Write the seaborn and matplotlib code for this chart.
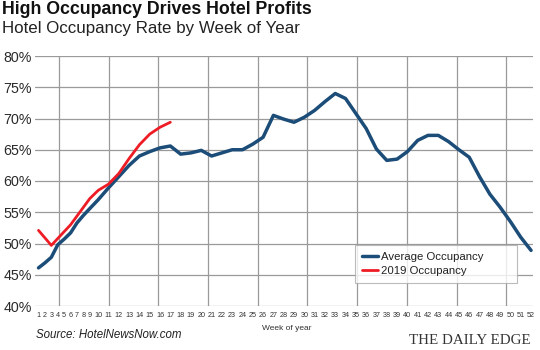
import seaborn as sns
import pandas as pd
import matplotlib.pyplot as plt
import numpy as np

# Data
weeks = list(range(1, 53))
avg_occupancy = [46.1, 46.9, 47.8, 49.8, 50.7, 51.7, 53.3, 54.5, 55.6, 57.0,
                 58.9, 60.7, 62.5, 64.0, 64.7, 65.3, 65.6, 64.3, 64.5, 64.9,
                 64.0, 64.5, 65.0, 65.0, 65.9, 67.0, 70.5, 69.9, 69.4, 70.2,
                 71.3, 72.7, 74.0, 73.2, 70.8, 68.4, 65.1, 63.3, 63.5, 64.7,
                 66.5, 67.3, 67.3, 66.3, 65.0, 63.8, 60.7, 57.9, 55.8, 53.5,
                 51.0, 48.9]
occupancy_2019 = [52.1, 50.9, 49.7, 50.8, 51.9, 53.0, 54.4, 55.8, 57.2, 58.5,
                  59.5, 61.2, 63.6, 65.8, 67.5, 68.6, 69.4]
week_labels = [str(w) for w in weeks]
y_ticks = [40, 45, 50, 55, 60, 65, 70, 75, 80]

# The week labels are laid out like a line of text, so place each week
# at the centre of its label (digit width 1, gap between labels 0.65)
pos = []
cursor = 0.0
for lab in week_labels:
    w = len(lab) * 1.0
    pos.append(cursor + w / 2)
    cursor += w + 0.65

avg_df = pd.DataFrame({'x': pos, 'Occupancy': avg_occupancy})
df_2019 = pd.DataFrame({'x': pos[:len(occupancy_2019)], 'Occupancy': occupancy_2019})

sns.set_style('white')
plt.rcParams['font.family'] = ['Liberation Sans', 'DejaVu Sans']

fig = plt.figure(figsize=(5.4, 3.5), dpi=100)
ax = fig.add_axes([35 / 540, 1 - 306 / 350, 498 / 540, 250 / 350])

sns.lineplot(x='x', y='Occupancy', data=avg_df, color='#1c4d78', linewidth=2.5,
             label='Average Occupancy', ax=ax, zorder=3)
sns.lineplot(x='x', y='Occupancy', data=df_2019, color='#ee1c25', linewidth=2.0,
             label='2019 Occupancy', ax=ax, zorder=4)

x0, x1 = pos[0] - 0.9, pos[-1] + 0.5
ax.set_xlim(x0, x1)
ax.set_ylim(40, 80)

# grid
for y in y_ticks:
    ax.axhline(y, color='#9a9a9a', linewidth=0.9, zorder=1)
for k in range(10):
    ax.axvline(x0 + (0.048 + 0.0998 * k) * (x1 - x0), color='#9a9a9a', linewidth=0.9, zorder=1)

for s in ax.spines.values():
    s.set_visible(False)

ax.set_yticks(y_ticks)
ax.set_yticklabels([f'{v}%' for v in y_ticks], fontsize=10.3, color='#2a2a2a')
ax.set_xticks(pos)
ax.set_xticklabels(week_labels, fontsize=5.2, color='#333333')
ax.tick_params(axis='y', length=0, pad=2.2)
ax.tick_params(axis='x', length=0, pad=4.3)
ax.set_xlabel('')
ax.set_ylabel('')

leg = ax.legend(loc='upper left', bbox_to_anchor=(0.6426, 0.0, 0.3253, 0.244),
                mode='expand', fontsize=8.2, frameon=True, fancybox=False,
                handlelength=1.4, handletextpad=0.3, borderpad=0.6,
                labelspacing=0.4, borderaxespad=0)
leg.get_frame().set_edgecolor('#aaaaaa')
leg.get_frame().set_linewidth(0.8)
for t in leg.get_texts():
    t.set_color('#222222')

fig.text(2 / 540, 1 - 9 / 350, 'High Occupancy Drives Hotel Profits', fontsize=12.8,
         fontweight='bold', va='center', ha='left', color='#111111')
fig.text(2 / 540, 1 - 29 / 350, 'Hotel Occupancy Rate by Week of Year', fontsize=12.2,
         va='center', ha='left', color='#222222')
fig.text(287 / 540, 1 - 329 / 350, 'Week of year', fontsize=6, ha='center', va='center',
         color='#333333')
fig.text(36 / 540, 1 - 335 / 350, 'Source: HotelNewsNow.com', fontsize=8.3, style='italic',
         ha='left', va='center', color='#222222')
fig.text(531 / 540, 1 - 341 / 350, 'THE DAILY EDGE', fontsize=10.8, family='Liberation Serif',
         ha='right', va='center', color='#333333')

fig.savefig('out.png', dpi=100)
